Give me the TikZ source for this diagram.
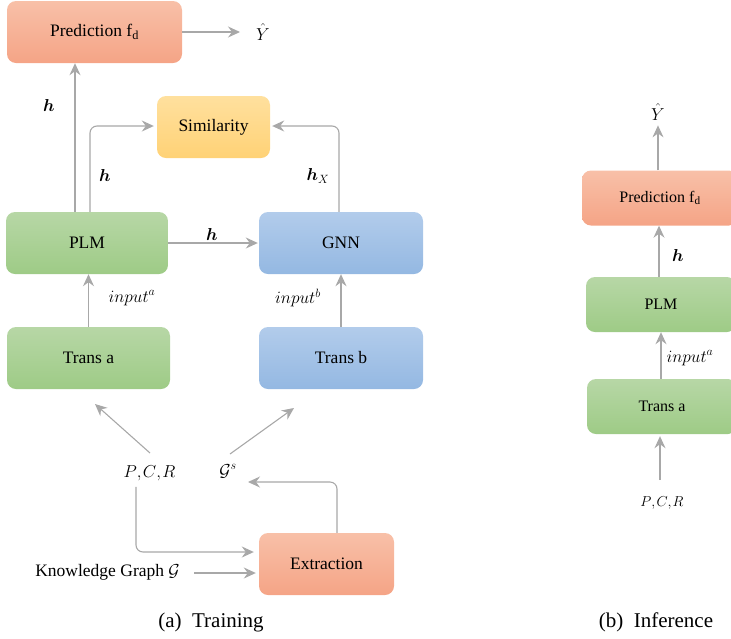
\documentclass[tikz,border=0pt]{standalone}
\usepackage{amsmath,bm}
\usepackage{fontspec}
\setmainfont{Liberation Serif}
\usetikzlibrary{arrows.meta}
\definecolor{arr}{RGB}{168,168,168}
\definecolor{redT}{RGB}{248,192,168}
\definecolor{redB}{RGB}{245,164,134}
\definecolor{yelT}{RGB}{255,224,158}
\definecolor{yelB}{RGB}{255,210,118}
\definecolor{grnT}{RGB}{183,215,166}
\definecolor{grnB}{RGB}{158,203,134}
\definecolor{bluT}{RGB}{178,204,235}
\definecolor{bluB}{RGB}{148,184,226}
\tikzset{
  box/.style={rectangle, rounded corners=9pt, inner sep=0pt, draw=none,
    font=\fontsize{17.5}{20}\selectfont, text=black},
  redbox/.style={box, top color=redT, bottom color=redB},
  yelbox/.style={box, top color=yelT, bottom color=yelB},
  grnbox/.style={box, top color=grnT, bottom color=grnB},
  blubox/.style={box, top color=bluT, bottom color=bluB},
  bigbox/.style={minimum height=62pt},
  smallbox/.style={minimum height=55pt, font=\fontsize{16}{19}\selectfont},
  conn/.style={draw=arr, line width=1.1pt, rounded corners=7pt,
    -{Stealth[length=12pt,width=11pt,inset=4pt]}},
  lab/.style={inner sep=0pt, font=\fontsize{17.5}{20}\selectfont},
  slab/.style={inner sep=0pt, font=\fontsize{16.5}{19}\selectfont},
  captxt/.style={inner sep=0pt, font=\fontsize{21}{24}\selectfont},
}
\begin{document}
\begin{tikzpicture}[x=1pt,y=-1pt]
\useasboundingbox (0,0) rectangle (731,638);
\clip (0,0) rectangle (731,638);
% ---------- (a) Training ----------
\node[redbox,bigbox,minimum width=175pt] (pred) at (94.5,32) {Prediction f\textsubscript{d}};
\node[yelbox,bigbox,minimum width=113pt] (sim) at (213.5,127) {Similarity};
\node[grnbox,bigbox,minimum width=162pt] (plm) at (87,243) {PLM};
\node[blubox,bigbox,minimum width=164pt] (gnn) at (341,243) {GNN};
\node[grnbox,bigbox,minimum width=163pt] (ta) at (88.5,358) {Trans a};
\node[blubox,bigbox,minimum width=164pt] (tb) at (341,358) {Trans b};
\node[redbox,bigbox,minimum width=135pt] (ext) at (326.5,564) {Extraction};

\node[lab] (yhat) at (263,32) {$\hat{Y}$};
\node[lab,font=\fontsize{16}{19}\selectfont] (pcr) at (149.5,473) {$P{,}\mkern1.5mu C{,}\mkern1.5mu R$};
\node[lab] (gs) at (228,471) {$\mathcal{G}^{s}$};
\node[lab,anchor=east] (kg) at (180,572) {Knowledge Graph $\mathcal{G}$};

\node[lab] (h1) at (49,105) {$\boldsymbol{h}$};
\node[lab] (h2) at (105,175) {$\boldsymbol{h}$};
\node[lab] (hx) at (318,176) {$\boldsymbol{h}_{X}$};
\node[lab] (h3) at (212,234) {$\boldsymbol{h}$};
\node[lab] (ina) at (132,298) {$input^{a}$};
\node[lab] (inb) at (298,298) {$input^{b}$};

\coordinate (pcrOut) at (150,453);
\coordinate (taIn) at (95,404);
\coordinate (gsOut) at (230,454);
\coordinate (tbIn) at (294,408);
\coordinate (gsIn) at (248,482);

\draw[conn] (pred.east) -- ([xshift=-16pt]pred.east -| yhat.west);
\draw[conn] ([xshift=-12pt]plm.north) -- ([xshift=-19.5pt]pred.south);
\draw[conn] ([xshift=3pt]plm.north) |- ([xshift=-3pt,yshift=1pt]sim.west);
\draw[conn] ([xshift=-2pt]gnn.north) |- ([xshift=2pt,yshift=1pt]sim.east);
\draw[conn,shorten >=1pt] (plm.east) -- (gnn.west);
\draw[conn] (ta.north) -- (ta.north |- plm.south);
\draw[conn] (tb.north) -- (tb.north |- gnn.south);
\draw[conn] (pcrOut) -- (taIn);
\draw[conn] (gsOut) -- (tbIn);
\draw[conn] ([xshift=10.5pt]ext.north) |- (gsIn);
\draw[conn,shorten >=5pt] ([xshift=-13.5pt,yshift=-6pt]pcr.south) |- ([yshift=12pt]ext.west);
\draw[conn,shorten >=3pt] ([xshift=14pt,yshift=-1pt]kg.east) -- ([yshift=-1pt]kg.east -| ext.west);

\node[captxt] (capa) at (211,622) {(a)\ \ Training};

% ---------- (b) Inference ----------
\node[redbox,smallbox,minimum width=156pt] (pred2) at (660,198) {Prediction f\textsubscript{d}};
\node[grnbox,smallbox,minimum width=150pt] (plm2) at (661,304.5) {PLM};
\node[grnbox,smallbox,minimum width=150pt] (ta2) at (662,406.5) {Trans a};
\node[slab] (yhat2) at (658,112) {$\hat{Y}$};
\node[slab,font=\fontsize{15}{18}\selectfont] (pcr2) at (662,503) {$P{,}\mkern1.5mu C{,}\mkern1.5mu R$};
\node[slab] (h4) at (678,255) {$\boldsymbol{h}$};
\node[slab] (ina2) at (690,358) {$input^{a}$};
\coordinate (pcr2Out) at (660,480);

\draw[conn,shorten >=5pt] ([xshift=-2pt]pred2.north) -- ([xshift=-2pt]pred2.north |- yhat2.south);
\draw[conn] ([xshift=-2pt]plm2.north) -- ([xshift=-2pt]plm2.north |- pred2.south);
\draw[conn] ([xshift=-1pt]ta2.north) -- ([xshift=-1pt]ta2.north |- plm2.south);
\draw[conn,shorten >=2pt] (pcr2Out) -- (pcr2Out |- ta2.south);

\node[captxt] (capb) at (656,622) {(b)\ \ Inference};
\end{tikzpicture}
\end{document}
